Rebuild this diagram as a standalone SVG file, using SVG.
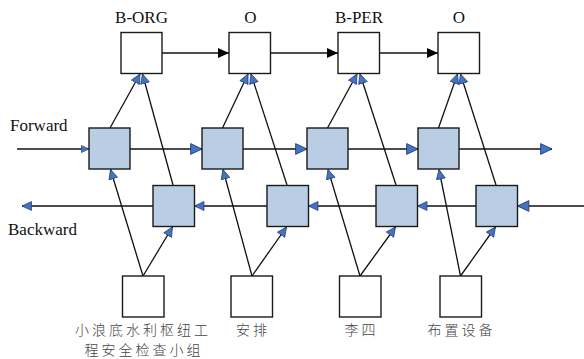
<svg xmlns="http://www.w3.org/2000/svg" width="584" height="359" viewBox="0 0 584 359">
<style>
.box{fill:#ffffff;stroke:#1a1a1a;stroke-width:1.4}
.hid{fill:#b9cde5;stroke:#1a1a1a;stroke-width:1.4}
.ln{fill:none;stroke:#111;stroke-width:1.3}
.lbl{font-family:"Liberation Serif","Times New Roman",serif;font-size:17px;fill:#111}
.cjk{font-family:"Noto Sans CJK SC",sans-serif;font-size:14px;fill:#444;letter-spacing:3px;font-weight:300}
</style>
<defs>
<marker id="blue" markerUnits="userSpaceOnUse" markerWidth="12" markerHeight="12" viewBox="0 0 10 10" refX="10" refY="5" orient="auto">
<path d="M0.5,0.5 L10,5 L0.5,9.5 z" fill="#4472c4" stroke="#1f3864" stroke-width="0.7"/>
</marker>
<marker id="blueS" markerUnits="userSpaceOnUse" markerWidth="8" markerHeight="8" viewBox="0 0 10 10" refX="10" refY="5" orient="auto">
<path d="M0.5,0.5 L10,5 L0.5,9.5 z" fill="#4472c4" stroke="#1f3864" stroke-width="0.8"/>
</marker>
<marker id="blueM" markerUnits="userSpaceOnUse" markerWidth="10" markerHeight="10" viewBox="0 0 10 10" refX="10" refY="5" orient="auto">
<path d="M0.5,0.5 L10,5 L0.5,9.5 z" fill="#4472c4" stroke="#1f3864" stroke-width="0.7"/>
</marker>
<marker id="black" markerUnits="userSpaceOnUse" markerWidth="11" markerHeight="10" viewBox="0 0 11 10" refX="11" refY="5" orient="auto">
<path d="M0,0 L11,5 L0,10 z" fill="#000"/>
</marker>
</defs>

<text class="lbl" x="10" y="131">Forward</text>
<text class="lbl" x="8" y="235">Backward</text>

<g id="connectors">
<!-- output row -->
<line class="ln" x1="162" y1="53" x2="229" y2="53" marker-end="url(#black)"/>
<line class="ln" x1="270.5" y1="53" x2="338" y2="53" marker-end="url(#black)"/>
<line class="ln" x1="379.5" y1="53" x2="438" y2="53" marker-end="url(#black)"/>
<!-- forward row -->
<line class="ln" x1="17" y1="149" x2="89" y2="149" marker-end="url(#blueS)"/>
<line class="ln" x1="130" y1="149" x2="202" y2="149" marker-end="url(#blue)"/>
<line class="ln" x1="243" y1="149" x2="307" y2="149" marker-end="url(#blue)"/>
<line class="ln" x1="348" y1="149" x2="418" y2="149" marker-end="url(#blue)"/>
<line class="ln" x1="459" y1="149" x2="552" y2="149" marker-end="url(#blue)"/>
<!-- backward row -->
<line class="ln" x1="584" y1="206" x2="517.5" y2="206" marker-end="url(#blue)"/>
<line class="ln" x1="476" y1="206" x2="417.5" y2="206" marker-end="url(#blueM)"/>
<line class="ln" x1="376" y1="206" x2="308.5" y2="206" marker-end="url(#blueM)"/>
<line class="ln" x1="267" y1="206" x2="194.5" y2="206" marker-end="url(#blueM)"/>
<line class="ln" x1="153" y1="206" x2="22" y2="206" marker-end="url(#blueM)"/>
<!-- column 1 -->
<line class="ln" x1="143" y1="276" x2="110.5" y2="169.5" marker-end="url(#blueM)"/>
<line class="ln" x1="143" y1="276" x2="172.5" y2="227" marker-end="url(#blueM)"/>
<line class="ln" x1="110" y1="128" x2="140" y2="74" marker-end="url(#blueM)"/>
<line class="ln" x1="173" y1="185" x2="142.5" y2="74" marker-end="url(#blueM)"/>
<!-- column 2 -->
<line class="ln" x1="252" y1="276" x2="223" y2="169.5" marker-end="url(#blueM)"/>
<line class="ln" x1="252" y1="276" x2="286.5" y2="227" marker-end="url(#blueM)"/>
<line class="ln" x1="222.5" y1="128" x2="248" y2="74" marker-end="url(#blueM)"/>
<line class="ln" x1="287" y1="185" x2="251" y2="74" marker-end="url(#blueM)"/>
<!-- column 3 -->
<line class="ln" x1="360" y1="276" x2="328" y2="169.5" marker-end="url(#blueM)"/>
<line class="ln" x1="360" y1="276" x2="395.5" y2="227" marker-end="url(#blueM)"/>
<line class="ln" x1="327.5" y1="128" x2="357" y2="74" marker-end="url(#blueM)"/>
<line class="ln" x1="396" y1="185" x2="360" y2="74" marker-end="url(#blueM)"/>
<!-- column 4 -->
<line class="ln" x1="460.5" y1="276" x2="439" y2="169.5" marker-end="url(#blueM)"/>
<line class="ln" x1="460.5" y1="276" x2="495.5" y2="227" marker-end="url(#blueM)"/>
<line class="ln" x1="438.5" y1="128" x2="457.5" y2="74" marker-end="url(#blueM)"/>
<line class="ln" x1="496" y1="185" x2="460.5" y2="74" marker-end="url(#blueM)"/>
</g>

<!-- output nodes -->
<g id="out1"><rect class="box" x="121" y="32.5" width="41" height="41"/><text class="lbl" x="141.5" y="23" text-anchor="middle">B-ORG</text></g>
<g id="out2"><rect class="box" x="229" y="32.5" width="41.5" height="41"/><text class="lbl" x="250.5" y="23" text-anchor="middle">O</text></g>
<g id="out3"><rect class="box" x="338" y="32.5" width="41.5" height="41"/><text class="lbl" x="359" y="23" text-anchor="middle">B-PER</text></g>
<g id="out4"><rect class="box" x="438" y="32.5" width="41.5" height="41"/><text class="lbl" x="459" y="23" text-anchor="middle">O</text></g>

<!-- forward nodes -->
<g id="fwd1"><rect class="hid" x="89" y="128" width="41" height="41"/></g>
<g id="fwd2"><rect class="hid" x="202" y="128" width="41" height="41"/></g>
<g id="fwd3"><rect class="hid" x="307" y="128" width="41" height="41"/></g>
<g id="fwd4"><rect class="hid" x="418" y="128" width="41" height="41"/></g>

<!-- backward nodes -->
<g id="bwd1"><rect class="hid" x="153" y="185.5" width="41.5" height="41"/></g>
<g id="bwd2"><rect class="hid" x="267" y="185.5" width="41.5" height="41"/></g>
<g id="bwd3"><rect class="hid" x="376" y="185.5" width="41.5" height="41"/></g>
<g id="bwd4"><rect class="hid" x="476" y="185.5" width="41.5" height="41"/></g>

<!-- input nodes -->
<g id="in1"><rect class="box" x="122.5" y="276" width="41.5" height="41"/>
<text class="cjk" x="143" y="334.5" text-anchor="middle">小浪底水利枢纽工</text>
<text class="cjk" x="144" y="354.5" text-anchor="middle">程安全检查小组</text></g>
<g id="in2"><rect class="box" x="231" y="276" width="41.5" height="41"/><text class="cjk" x="253" y="334.5" text-anchor="middle">安排</text></g>
<g id="in3"><rect class="box" x="339.5" y="276" width="41.5" height="41"/><text class="cjk" x="361.5" y="334.5" text-anchor="middle">李四</text></g>
<g id="in4"><rect class="box" x="440" y="276" width="41.5" height="41"/><text class="cjk" x="461.5" y="334.5" text-anchor="middle">布置设备</text></g>
</svg>
